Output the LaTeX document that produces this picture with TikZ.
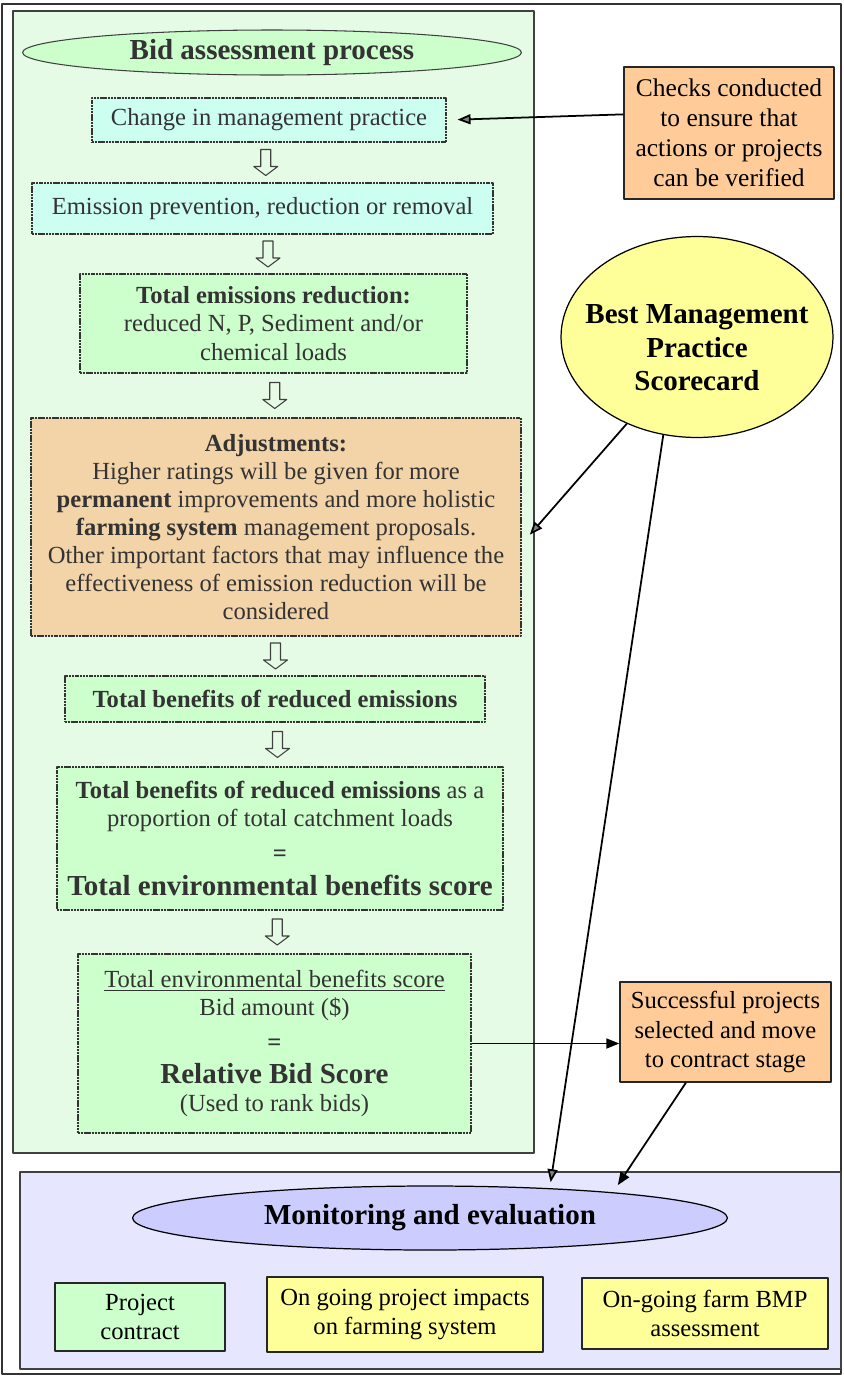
\documentclass[tikz,border=0pt]{standalone}
\usepackage{fontspec}
\setmainfont{Liberation Serif}
\usetikzlibrary{shapes.geometric,arrows.meta,calc}
\definecolor{panelgreen}{HTML}{E6FBE6}
\definecolor{mint}{HTML}{CCFFCC}
\definecolor{aqua}{HTML}{CCFFF0}
\definecolor{peach}{HTML}{FFCC99}
\definecolor{peachmix}{HTML}{F3D3A8}
\definecolor{lemon}{HTML}{FFFF99}
\definecolor{panelblue}{HTML}{E6E6FF}
\definecolor{lilac}{HTML}{CCCCFF}
\newcommand\largebf{\fontsize{16.5}{19}\selectfont\bfseries}
\tikzset{
  panelbox/.style={draw=black!80,dash pattern=on 1.2pt off .4pt,line width=.7pt,align=center,inner sep=0pt,text=black!80},
  greenbox/.style={panelbox,fill=mint},
  aquabox/.style={panelbox,fill=aqua},
  sidebox/.style={draw=black!85,line width=.8pt,align=center,inner sep=0pt,font=\fontsize{14}{16.8}\selectfont},
  link/.style={line width=1pt,-{Triangle[length=.26cm,width=.2cm]}},
  greylink/.style={line width=1pt,-{Triangle[length=.26cm,width=.2cm,fill=black!50]}},
  pics/hollowdown/.style={code={\draw[black!75,line width=.6pt] (-5,-13) -- (5,-13) -- (5,4) -- (12,4) -- (0,13) -- (-12,4) -- (-5,4) -- cycle;}}
}
\begin{document}
\begin{tikzpicture}[x=0.02cm,y=-0.02cm,line join=round,font=\fontsize{14}{16}\selectfont]
\useasboundingbox (0,0) rectangle (843,1376);
% frames
\draw[line width=.6pt,black!80] (2,4) rectangle (841,1374);
\draw[fill=panelgreen,draw=black!75,line width=.8pt] (13,11) rectangle (534,1153);
\draw[fill=panelblue,draw=black!75,line width=.8pt] (20,1172) rectangle (841,1369);
% bid assessment column
\node[ellipse,draw=black!75,line width=.6pt,fill=mint,minimum width=9.98cm,minimum height=.9cm,inner sep=0pt,font=\largebf,text=black!80] (bid) at (272,52.5) {Bid assessment process};
\node[aquabox,minimum width=7.08cm,minimum height=.88cm] (chg) at (269,120) {Change in management practice};
\node[aquabox,minimum width=9.22cm,minimum height=1.02cm] (emis) at (262.5,208.5) {Emission prevention, reduction or removal};
\node[greenbox,minimum width=7.74cm,minimum height=1.98cm] (totred) at (273.5,323.5) {\textbf{Total emissions reduction:}\\ reduced N, P, Sediment and/or\\ chemical loads};
\node[panelbox,fill=peachmix,minimum width=9.8cm,minimum height=4.36cm] (adj) at (276,527) {\textbf{Adjustments:}\\ Higher ratings will be given for more\\ \textbf{permanent} improvements and more holistic\\ \textbf{farming system} management proposals.\\ Other important factors that may influence the\\ effectiveness of emission reduction will be\\ considered};
\node[greenbox,minimum width=8.4cm,minimum height=.92cm] (benef) at (275,699) {\textbf{Total benefits of reduced emissions}};
\node[greenbox,minimum width=8.92cm,minimum height=2.86cm] (envscore) at (280,838.5) {\textbf{Total benefits of reduced emissions} as a\\ proportion of total catchment loads\\[4pt] \textbf{=}\\[3pt] {\largebf Total environmental benefits score}};
\node[greenbox,minimum width=7.86cm,minimum height=3.58cm] (bidscore) at (274.5,1043.5) {\underline{Total environmental benefits score}\\ Bid amount (\$)\\[4pt] \textbf{=}\\[3pt] {\largebf Relative Bid Score}\\ (Used to rank bids)};
\foreach \a/\b in {chg/emis,emis/totred,totred/adj,adj/benef,benef/envscore,envscore/bidscore}
  \pic at ($(\a.south)!.5!(\b.north)$) {hollowdown};
% right side
\node[sidebox,fill=peach,minimum width=4.2cm,minimum height=2.64cm,font=\fontsize{14.5}{17}\selectfont] (checks) at (729,133) {Checks conducted\\ to ensure that\\ actions or projects\\ can be verified};
\node[ellipse,draw=black,line width=.7pt,fill=lemon,minimum width=5.44cm,minimum height=4.02cm,inner sep=0pt,
  label={[font=\largebf,align=center,yshift=-.22cm]center:Best Management\\ Practice\\ Scorecard}] (bmp) at (697,337) {};
\node[sidebox,fill=peach,minimum width=4.22cm,minimum height=2cm] (succ) at (725.5,1032) {Successful projects\\ selected and move\\ to contract stage};
% monitoring
\node[ellipse,draw=black,line width=.7pt,fill=lilac,minimum width=11.9cm,minimum height=1.28cm,inner sep=0pt,font=\largebf] (monitor) at (430,1218) {Monitoring and evaluation};
\node[sidebox,fill=mint,minimum width=3.4cm,minimum height=1.36cm] (contract) at (140,1317) {Project\\ contract};
\node[sidebox,fill=lemon,minimum width=5.52cm,minimum height=1.5cm] (impacts) at (405,1314.5) {On going project impacts\\ on farming system};
\node[sidebox,fill=lemon,minimum width=4.92cm,minimum height=1.42cm] (farmbmp) at (705,1313.5) {On-going farm BMP\\ assessment};
% connectors
\draw[greylink,shorten >=.22cm] (checks.170) -- (chg.east);
\draw[greylink,shorten >=.25cm] (bmp.231) -- (adj.-4);
\draw[greylink,shorten >=.12cm] (bmp.251) -- (monitor.14);
\draw[link] (bidscore.east) -- (bidscore.east -| succ.west);
\draw[link,shorten >=.17cm] (succ.232) -- (monitor.8);
\end{tikzpicture}
\end{document}
